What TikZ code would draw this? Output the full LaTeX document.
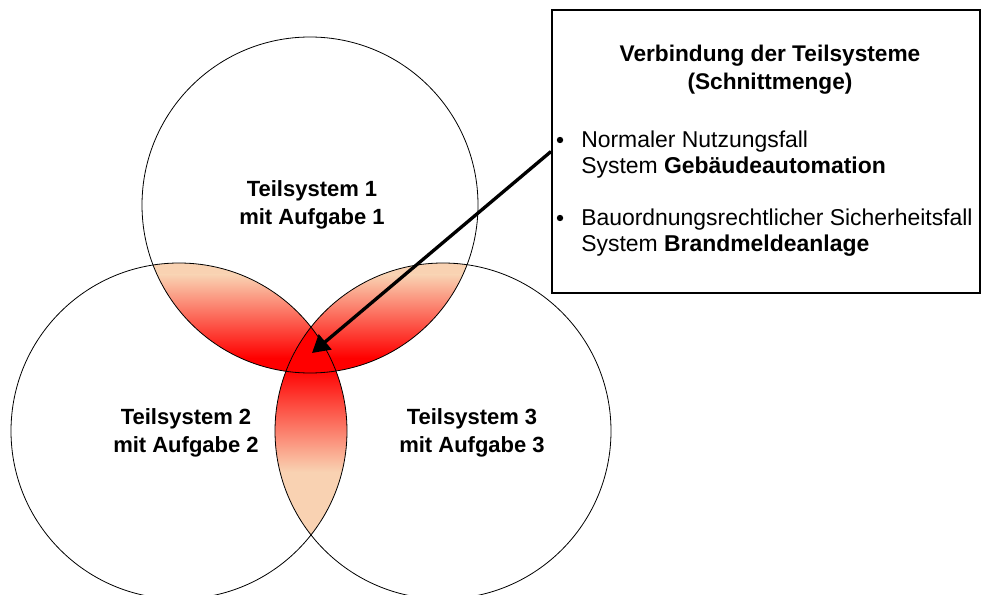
\documentclass[tikz,border=0pt]{standalone}
\usepackage{fontspec}
\setmainfont{Liberation Sans}
\usetikzlibrary{arrows.meta}
\definecolor{peach}{RGB}{249,210,178}
\tikzset{
	ring/.style={draw=black, line width=0.6pt},
	syslabel/.style={font=\fontsize{16.5}{21}\selectfont\bfseries, align=center},
	infobox/.style={draw=black, line width=1.5pt, minimum width=321pt, minimum height=212.25pt, inner sep=0pt},
	boxtitle/.style={font=\fontsize{17}{21}\selectfont\bfseries, align=center},
	itemtext/.style={font=\fontsize{17.2}{19.5}\selectfont, align=left, anchor=north west, inner sep=0pt},
	dot/.style={circle, fill=black, inner sep=0pt, minimum size=4.8pt},
	pointer/.style={-{Triangle[length=13pt,width=14.5pt]}, line width=2.5pt}
}

\begin{document}
\begin{tikzpicture}[x=0.75pt, y=-0.75pt]
	\useasboundingbox (0,0) rectangle (981,595);
	\clip (0,0) rectangle (981,595);

	% centres of the three subsystems
	\coordinate (c1) at (310,205);
	\coordinate (c2) at (179,431);
	\coordinate (c3) at (443,431);
	\def\rad{168}

	% overlap of system 1 and system 2
	\begin{scope}
		\clip (c1) circle[radius=\rad];
		\clip (c2) circle[radius=\rad];
		\fill[peach] (0,0) rectangle (981,595);
		\shade[top color=peach, bottom color=red] (0,275) rectangle (981,358);
		\fill[red] (0,358) rectangle (981,595);
	\end{scope}

	% overlap of system 1 and system 3
	\begin{scope}
		\clip (c1) circle[radius=\rad];
		\clip (c3) circle[radius=\rad];
		\fill[peach] (0,0) rectangle (981,595);
		\shade[top color=peach, bottom color=red] (0,275) rectangle (981,358);
		\fill[red] (0,358) rectangle (981,595);
	\end{scope}

	% overlap of system 2 and system 3
	\begin{scope}
		\clip (c2) circle[radius=\rad];
		\clip (c3) circle[radius=\rad];
		\fill[peach] (0,0) rectangle (981,595);
		\fill[red] (0,0) rectangle (981,368);
		\shade[top color=red, bottom color=peach] (0,368) rectangle (981,472);
	\end{scope}

	% common part of all three
	\begin{scope}
		\clip (c1) circle[radius=\rad];
		\clip (c2) circle[radius=\rad];
		\clip (c3) circle[radius=\rad];
		\fill[red] (0,0) rectangle (981,595);
	\end{scope}

	% the circles
	\draw[ring] (c1) circle[radius=\rad];
	\draw[ring] (c2) circle[radius=\rad];
	\draw[ring] (c3) circle[radius=\rad];

	\node[syslabel] (sys1) at (312,205) {Teilsystem 1\\mit Aufgabe 1};
	\node[syslabel] (sys2) at (186,433) {Teilsystem 2\\mit Aufgabe 2};
	\node[syslabel] (sys3) at (472,433) {Teilsystem 3\\mit Aufgabe 3};

	% info box
	\node[infobox] (box) at (766,151.5) {};
	\node[boxtitle] (title) at (770,70) {Verbindung der Teilsysteme\\(Schnittmenge)};
	\node[dot] (b1) at (560,140) {};
	\node[itemtext] (item1) at (581,130.5) {Normaler Nutzungsfall\\System \textbf{Gebäudeautomation}};
	\node[dot] (b2) at (560,218) {};
	\node[itemtext] (item2) at (581,208.5) {Bauordnungsrechtlicher Sicherheitsfall\\System \textbf{Brandmeldeanlage}};

	% pointer into the common part
	\coordinate (hit) at (312,353);
	\draw[pointer] (box.west) -- (hit);
\end{tikzpicture}
\end{document}
